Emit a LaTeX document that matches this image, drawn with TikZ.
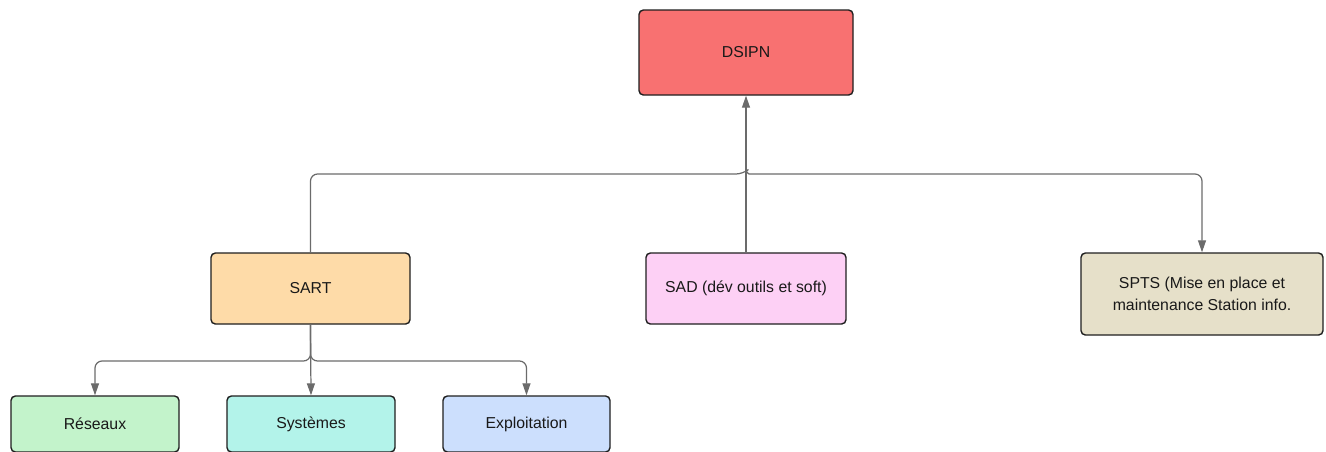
\documentclass[tikz,border=0pt]{standalone}
\usepackage{fontspec}
\setmainfont{Liberation Sans}
\usetikzlibrary{arrows.meta}
\definecolor{dsipnred}{HTML}{F87171}
\definecolor{sartorange}{HTML}{FEDBA8}
\definecolor{sadpink}{HTML}{FDD0F5}
\definecolor{sptsbeige}{HTML}{E6E0C9}
\definecolor{resgreen}{HTML}{C3F3CB}
\definecolor{systeal}{HTML}{B3F3EA}
\definecolor{exploblue}{HTML}{CCDFFD}
\definecolor{linkgray}{HTML}{6B6B6B}
\begin{document}
\begin{tikzpicture}[x=0.02cm,y=0.02cm]
\def\unit{0.02cm}
\tikzset{base/.style={draw=black!88,line width=0.8pt,rounded corners=2.5pt,align=center,
  text=black!90,font=\fontsize{9pt}{12.5pt}\selectfont},
box/.style={base,minimum width=200*\unit,minimum height=71*\unit},
leaf/.style={base,minimum width=168*\unit,minimum height=56*\unit},
link/.style={draw=linkgray,line width=0.7pt,rounded corners=4pt,
  -{Triangle[length=12*\unit,width=8*\unit]}}}
\useasboundingbox (0,0) rectangle (1326,-451);
\clip (0,0) rectangle (1326,-451);
\node[base,fill=dsipnred,minimum width=214*\unit,minimum height=85*\unit] at (746,-52.5) (DSIPN) {DSIPN};
\node[box,fill=sartorange,minimum width=199*\unit] at (310.5,-288.5) (SART) {SART};
\node[box,fill=sadpink] at (746,-288.5) (SAD) {SAD (dév outils et soft)};
\node[box,fill=sptsbeige,minimum width=242*\unit,minimum height=82*\unit] at (1202,-294) (SPTS) {SPTS (Mise en place et\\ maintenance Station info.};
\node[leaf,fill=resgreen] at (95,-424) (RES) {Réseaux};
\node[leaf,fill=systeal] at (311,-424) (SYS) {Systèmes};
\node[leaf,fill=exploblue,minimum width=167*\unit] at (526.5,-424) (EXP) {Exploitation};
% bus and fork points
\coordinate (bus) at (746,-174);
\coordinate (fork) at (SART.south |- 0,-361);
\draw[link] (SAD) -- (DSIPN);
\draw[link] (SART.north) |- ([xshift=-3*\unit]bus) [sharp corners] -- ([yshift=2.5*\unit]bus)
  -- ([xshift=3*\unit]bus) [rounded corners=4pt] -| (SPTS.north);
\draw[link] (SART.south) -- (fork) -| (RES.north);
\draw[link] (SART.south) -- (SYS.north);
\draw[link] (SART.south) -- (fork) -| (EXP.north);
\end{tikzpicture}
\end{document}
